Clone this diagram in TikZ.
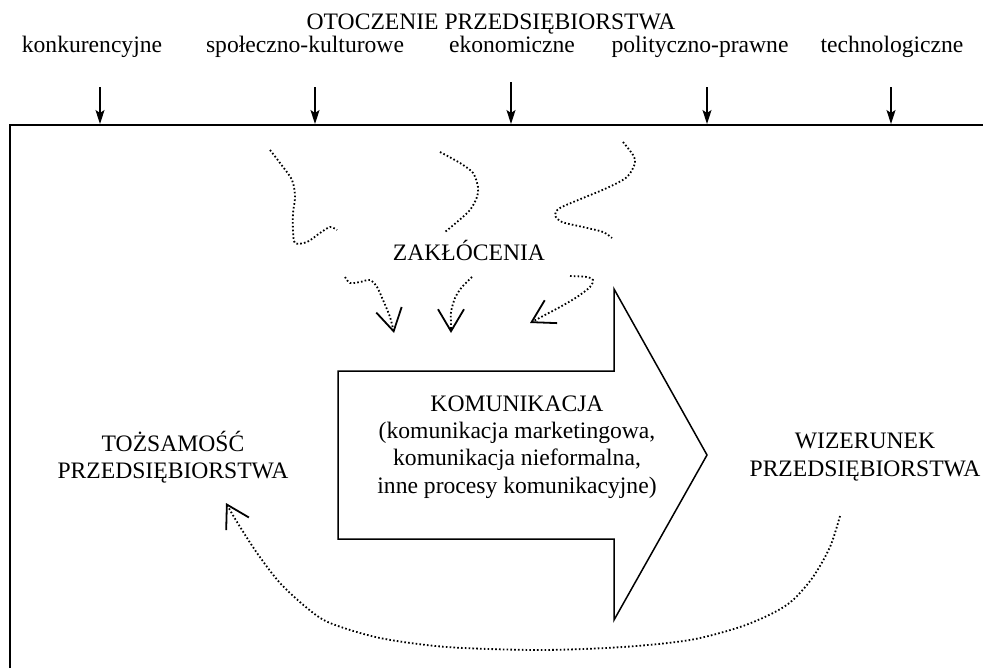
\documentclass[tikz,border=0pt]{standalone}
\usepackage{fontspec}
\setmainfont{Liberation Serif}
\usepackage{tikz}
\usetikzlibrary{positioning,arrows,arrows.meta,calc}

\begin{document}
\begin{tikzpicture}[x=0.5pt,y=-0.5pt,
  every node/.style={font=\fontsize{11.8}{13.6}\selectfont, align=center},
  envarrow/.style={-{Stealth[length=7pt,width=4.5pt,inset=1.5pt]}, line width=0.6pt, shorten <=11pt},
  noise/.style={line width=0.9pt, dash pattern=on 0.8pt off 1.1pt},
  openhead/.style={-{Straight Barb[length=11pt,width=13pt,line width=0.9pt]}}]
\useasboundingbox (0,0) rectangle (983,668);
% frame of the environment
\draw[line width=0.9pt] (10,668) -- (10,125) -- (983,125);
\node[anchor=base] at (491,30) (otoczenie) {OTOCZENIE PRZEDSIĘBIORSTWA};
\node[anchor=base] at (92,53)  (konk)  {konkurencyjne};
\node[anchor=base] at (305,53) (spol)  {społeczno-kulturowe};
\node[anchor=base] at (512,53) (ekon)  {ekonomiczne};
\node[anchor=base] at (700,53) (polit) {polityczno-prawne};
\node[anchor=base] at (892,53) (techn) {technologiczne};
\foreach \lab/\x in {konk/100, spol/315, ekon/511, polit/707, techn/891}{
  \coordinate (in-\lab) at (\x,124);
  \draw[envarrow] (\lab.south -| in-\lab) -- (in-\lab);
}
% communication arrow
\draw[line width=0.75pt, line join=miter] (338,371) -- (614,371) -- (614,289) -- (707,455)
  -- (614,620) -- (614,539) -- (338,539) -- cycle;
\node at (517,447) (komunikacja) {KOMUNIKACJA\\(komunikacja marketingowa,\\komunikacja nieformalna,\\inne procesy komunikacyjne)};
\node at (173,457) (tozsamosc) {TOŻSAMOŚĆ\\PRZEDSIĘBIORSTWA};
\node at (865,457) (wizerunek) {WIZERUNEK\\PRZEDSIĘBIORSTWA};
\node at (469,250) (zaklocenia) {ZAKŁÓCENIA};
% disturbances
\draw[noise] plot[smooth] coordinates {(270,150) (280,163) (292,180) (295,197) (293,213) (293,230) (295,243) (307,242) (320,233) (330,227) (337,230)};
\draw[noise] plot[smooth] coordinates {(440,152) (460,163) (473,173) (478,187) (477,197) (470,210) (457,222) (445,232)};
\draw[noise] plot[smooth] coordinates {(623,142) (633,155) (635,163) (627,177) (607,188) (583,198) (560,208) (555,215) (562,222) (583,227) (603,232) (612,238)};
\draw[noise, openhead] plot[smooth] coordinates {(345,277) (350,283) (360,282) (370,280) (377,287) (383,300) (390,317) (394,333)};
\draw[noise, openhead] plot[smooth] coordinates {(472,277) (462,287) (455,298) (451,312) (451,323) (451,333)};
\draw[noise, openhead] plot[smooth] coordinates {(570,276) (587,277) (593,280) (590,287) (577,297) (560,307) (543,316) (530,323)};
% feedback from image to identity
\coordinate (fb-start) at (840,516);
\coordinate (fb-end) at (226,503);
\draw[noise, openhead] plot[smooth] coordinates {(fb-start) (830,547) (813,577) (793,600) (773,613) (740,627) (690,640) (623,647) (540,650) (447,647) (380,638) (330,623) (307,608) (280,583) (257,553) (237,522) (fb-end)};
\end{tikzpicture}
\end{document}
